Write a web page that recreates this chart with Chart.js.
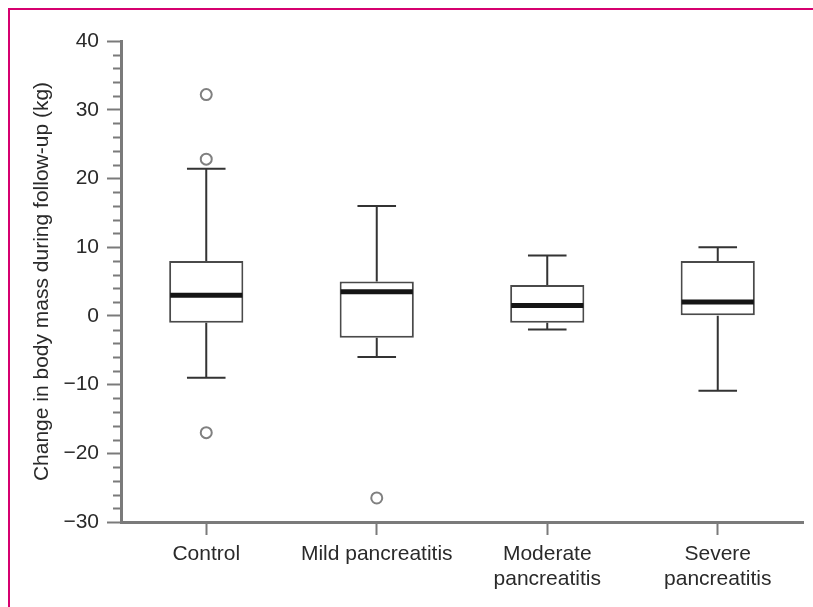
<!DOCTYPE html>
<html>
<head>
<meta charset="utf-8">
<script src="https://cdn.jsdelivr.net/npm/chart.js@4.4.1/dist/chart.umd.min.js"></script>
<style>
  html, body { margin: 0; padding: 0; background: #fff; }
  #wrap { position: relative; width: 813px; height: 607px; }
  #frame {
    position: absolute; left: 8px; top: 8px; right: 0; bottom: 0;
    border-top: 2px solid #d6006f; border-left: 2px solid #d6006f;
    pointer-events: none;
  }
</style>
</head>
<body>
<div id="wrap">
  <canvas id="boxChart"></canvas>
  <div id="frame"></div>
</div>
<script>
// Box plot values (kg)
const categories = ['Control', 'Mild pancreatitis', 'Moderate pancreatitis', 'Severe pancreatitis'];
const tickLines = [['Control'], ['Mild pancreatitis'], ['Moderate', 'pancreatitis'], ['Severe', 'pancreatitis']];
const whiskerLow = [-9, -6, -2, -10.9];
const q1 = [-1, -3.2, -1, 0];
const median = [3, 3.5, 1.5, 2];
const q3 = [8, 5, 4.5, 8];
const whiskerHigh = [21.4, 16, 8.8, 10];
const outliers = [
  { x: 'Control', y: 32.2 },
  { x: 'Control', y: 22.8 },
  { x: 'Control', y: -17 },
  { x: 'Mild pancreatitis', y: -26.5 }
];
const yMin = -30, yMax = 40, yMajor = 10, yMinor = 2;

const axisGrey = '#7a7a7a';
const inkDark = '#2a2a2a';
const fontFamily = '"Liberation Sans", Arial, Helvetica, sans-serif';

// whiskers, caps and medians drawn from the scales
const boxExtras = {
  id: 'boxExtras',
  afterDatasetsDraw(chart) {
    const ctx = chart.ctx;
    const y = chart.scales.y;
    const meta = chart.getDatasetMeta(0);
    ctx.save();
    meta.data.forEach((bar, i) => {
      const cx = bar.x;
      const w = bar.width;
      const cap = w * 0.26;
      ctx.strokeStyle = '#333';
      ctx.lineWidth = 2;
      ctx.beginPath();
      ctx.moveTo(cx, y.getPixelForValue(q3[i]));
      ctx.lineTo(cx, y.getPixelForValue(whiskerHigh[i]));
      ctx.moveTo(cx - cap, y.getPixelForValue(whiskerHigh[i]));
      ctx.lineTo(cx + cap, y.getPixelForValue(whiskerHigh[i]));
      ctx.moveTo(cx, y.getPixelForValue(q1[i]));
      ctx.lineTo(cx, y.getPixelForValue(whiskerLow[i]));
      ctx.moveTo(cx - cap, y.getPixelForValue(whiskerLow[i]));
      ctx.lineTo(cx + cap, y.getPixelForValue(whiskerLow[i]));
      ctx.stroke();
      ctx.strokeStyle = '#151515';
      ctx.lineWidth = 5;
      ctx.beginPath();
      ctx.moveTo(cx - w / 2 + 1, y.getPixelForValue(median[i]));
      ctx.lineTo(cx + w / 2 - 1, y.getPixelForValue(median[i]));
      ctx.stroke();
    });
    ctx.restore();
  }
};

// short minor ticks on the y axis
const minorTicks = {
  id: 'minorTicks',
  afterDraw(chart) {
    const ctx = chart.ctx;
    const y = chart.scales.y;
    const x0 = chart.chartArea.left;
    ctx.save();
    ctx.strokeStyle = axisGrey;
    ctx.lineWidth = 2;
    ctx.beginPath();
    for (let v = yMin; v <= yMax; v += yMinor) {
      if (v % yMajor === 0) continue;
      const py = Math.round(y.getPixelForValue(v)) + 0.5;
      ctx.moveTo(x0 - 8, py);
      ctx.lineTo(x0, py);
    }
    ctx.stroke();
    ctx.restore();
  }
};

const ctx = document.getElementById('boxChart').getContext('2d');
new Chart(ctx, {
  type: 'bar',
  data: {
    labels: categories,
    datasets: [{
      label: 'IQR',
      data: categories.map((c, i) => [q1[i], q3[i]]),
      backgroundColor: '#ffffff',
      borderColor: '#4a4a4a',
      borderWidth: 2,
      borderSkipped: false,
      categoryPercentage: 1,
      barPercentage: 0.435,
      order: 2
    }, {
      type: 'line',
      label: 'Outliers',
      data: outliers,
      showLine: false,
      pointRadius: 5.5,
      pointBorderWidth: 2,
      pointBorderColor: '#808080',
      pointBackgroundColor: '#ffffff',
      order: 1
    }]
  },
  options: {
    responsive: true,
    maintainAspectRatio: false,
    animation: false,
    layout: { padding: { left: 10, top: 41, right: 10, bottom: 0 } },
    plugins: {
      legend: { display: false },
      tooltip: { enabled: false }
    },
    scales: {
      x: {
        afterFit: s => { s.height = 85; },
        grid: { offset: false, drawOnChartArea: false, tickLength: 13, tickColor: axisGrey, tickWidth: 2 },
        border: { color: axisGrey, width: 3 },
        ticks: {
          color: inkDark,
          padding: 6,
          font: { family: fontFamily, size: 21, lineHeight: 1.22 },
          callback: (v, i) => tickLines[i]
        }
      },
      y: {
        min: yMin,
        max: yMax,
        afterFit: s => { s.width = 111; },
        grid: { drawOnChartArea: false, tickLength: 14, tickColor: axisGrey, tickWidth: 2 },
        border: { color: axisGrey, width: 3 },
        ticks: {
          stepSize: yMajor,
          color: inkDark,
          padding: 8,
          font: { family: fontFamily, size: 21 },
          callback: v => (v < 0 ? '\u2212' + Math.abs(v) : String(v))
        },
        title: {
          display: true,
          text: 'Change in body mass during follow-up (kg)',
          color: inkDark,
          padding: { top: 20, bottom: 0 },
          font: { family: fontFamily, size: 21 }
        }
      }
    }
  },
  plugins: [boxExtras, minorTicks]
});
</script>
</body>
</html>
